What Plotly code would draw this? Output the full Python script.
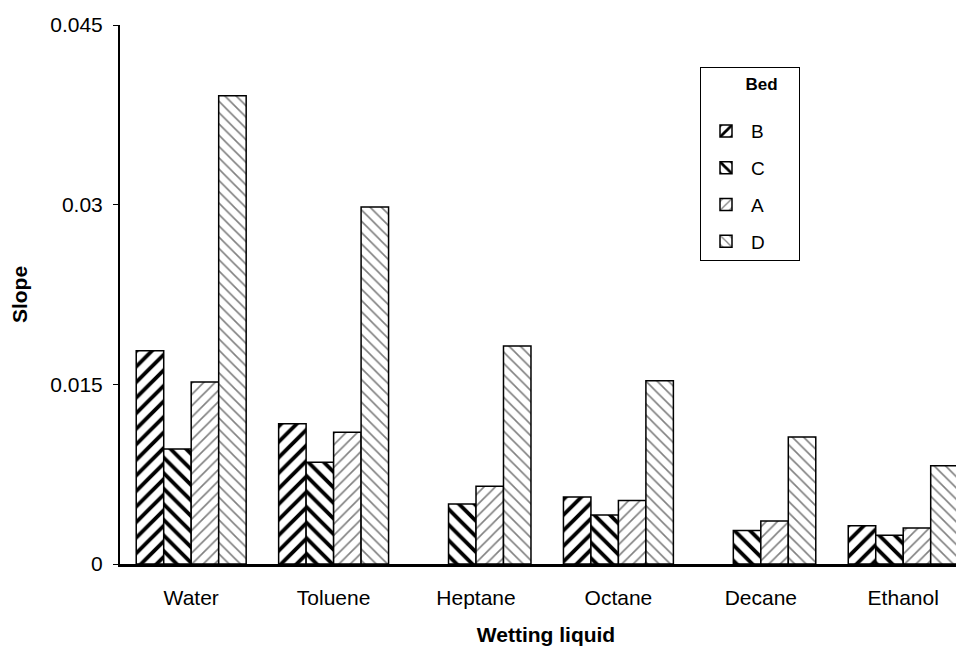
import plotly.graph_objects as go

categories = ["Water", "Toluene", "Heptane", "Octane", "Decane", "Ethanol"]
bed_B = [0.0178, 0.0117, None, 0.0056, None, 0.0032]
bed_C = [0.0096, 0.0085, 0.0050, 0.0041, 0.0028, 0.0024]
bed_A = [0.0152, 0.0110, 0.0065, 0.0053, 0.0036, 0.0030]
bed_D = [0.0391, 0.0298, 0.0182, 0.0153, 0.0106, 0.0082]
y_ticks = [0, 0.015, 0.03, 0.045]
y_ticklabels = ["0", "0.015", "0.03", "0.045"]

series = [
    ("B", bed_B, dict(shape="/", fgcolor="black", bgcolor="white", size=11, solidity=0.35, fgopacity=1)),
    ("C", bed_C, dict(shape="\\", fgcolor="black", bgcolor="white", size=11, solidity=0.35, fgopacity=1)),
    ("A", bed_A, dict(shape="/", fgcolor="#808080", bgcolor="white", size=8, solidity=0.2, fgopacity=1)),
    ("D", bed_D, dict(shape="\\", fgcolor="#808080", bgcolor="white", size=8, solidity=0.2, fgopacity=1)),
]

fig = go.Figure()
for name, vals, pat in series:
    fig.add_trace(go.Bar(
        x=categories, y=vals, name=name, legendgroup=name,
        marker=dict(color="white", pattern=pat, line=dict(color="black", width=1.5)),
    ))

nb = "&nbsp;"
fig.update_layout(
    width=964, height=648,
    paper_bgcolor="white", plot_bgcolor="white",
    margin=dict(l=112, r=0, t=17, b=92),
    barmode="group", bargap=0.228, bargroupgap=0,
    font=dict(family="Liberation Sans, Arial", size=21, color="black"),
    legend=dict(
        x=(700 - 120) / 852, y=(564 - 67) / 539, xanchor="left", yanchor="top",
        bordercolor="black", borderwidth=1, bgcolor="white",
        title=dict(text=nb * 9 + "<b>Bed</b>" + nb * 4 + "<br> ", side="top", font=dict(size=17)),
        tracegroupgap=9, font=dict(size=19),
        itemwidth=40,
    ),
    showlegend=True,
)
fig.update_xaxes(
    range=[-0.5, 5.483], showline=True, linecolor="black", linewidth=2.5,
    ticks="", tickfont=dict(size=21), ticklabelstandoff=13, automargin=False,
    title=dict(text="<b>Wetting liquid</b>", font=dict(size=21), standoff=20),
)
fig.update_yaxes(
    range=[0, 0.045], tickvals=y_ticks, ticktext=y_ticklabels,
    showline=True, linecolor="black", linewidth=2, showgrid=False, zeroline=False,
    ticks="outside", ticklen=5, tickcolor="black", tickwidth=1,
    tickfont=dict(size=21), ticklabelstandoff=6, automargin=False,
    title=dict(text="<b>Slope</b>", font=dict(size=21), standoff=22),
)
fig.write_html("out.html")
